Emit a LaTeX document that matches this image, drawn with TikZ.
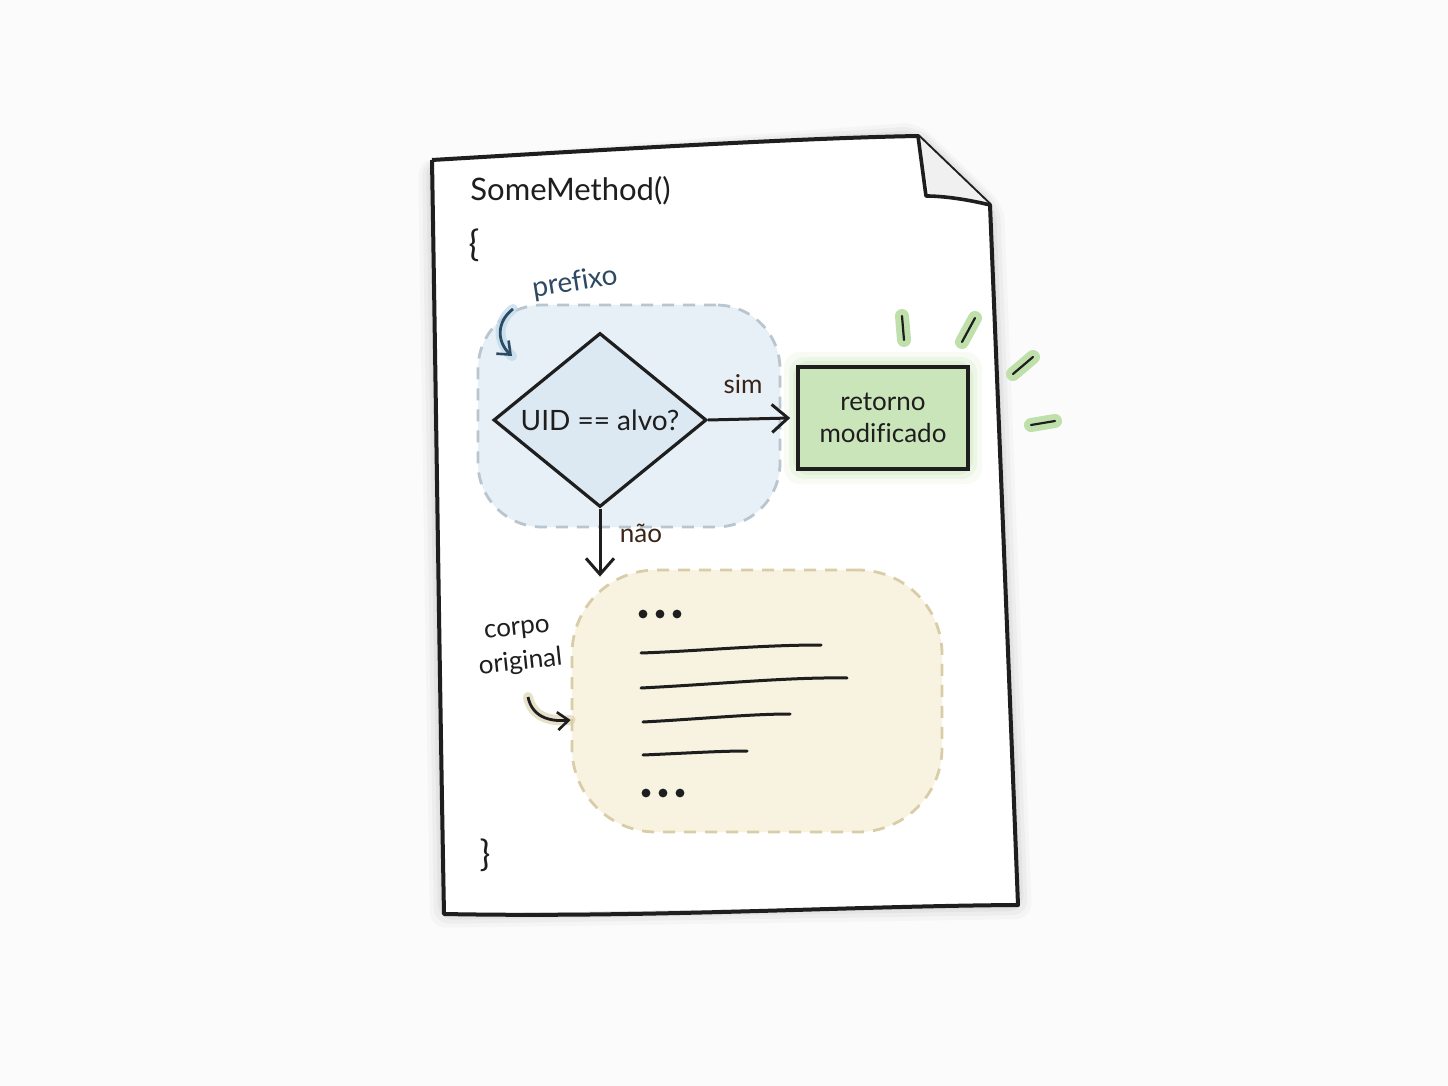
\documentclass[tikz,border=0pt]{standalone}
\usepackage{fontspec}
\setmainfont{Lato}[Ligatures=NoCommon]
\usetikzlibrary{shapes.geometric,arrows.meta,calc}
\definecolor{bg}{HTML}{FBFBFB}
\definecolor{ink}{HTML}{1E1E1E}
\definecolor{bluefill}{HTML}{E7F0F6}
\definecolor{bluedash}{HTML}{B9C6CF}
\definecolor{diafill}{HTML}{DCE9F2}
\definecolor{greenfill}{HTML}{C9E5B9}
\definecolor{greenglow}{HTML}{BFE0AB}
\definecolor{beigefill}{HTML}{F8F2E1}
\definecolor{beigedash}{HTML}{D9CDA8}
\definecolor{brownink}{HTML}{3A2418}
\definecolor{blueink}{HTML}{2E4A63}
\definecolor{blueglow}{HTML}{BCD8EA}
\tikzset{
  x=0.5pt,y=-0.5pt,
  tip/.style={-{Straight Barb[length=8pt,width=14pt,line width=1.5pt]}},
  smalltip/.style={-{Straight Barb[length=5.5pt,width=9pt,line width=1.3pt]}},
  region/.style={draw,dashed,dash pattern=on 6pt off 4.5pt,line width=1.4pt},
  handtext/.style={font=\fontsize{14}{16}\selectfont,text=ink,inner sep=1pt},
  raystyle/.style={line cap=round,line width=1.1pt,ink},
  rayglow/.style={line cap=round,line width=7pt,greenglow}
}
\begin{document}
\begin{tikzpicture}
\useasboundingbox (0,0) rectangle (1448,1086);
\fill[bg] (0,0) rectangle (1448,1086);
% page shadow
\foreach \o/\a in {14/0.025,10/0.03,6/0.035,3/0.04}{
  \fill[black,opacity=\a,rounded corners=8pt]
    (432-\o,160) -- (918,136-\o) -- (990+\o,205) -- (1018+\o,905+\o) -- (444-\o,914+\o) -- cycle;
}
% page
\fill[white] (432,160) -- (918,136) -- (990,205) -- (1018,905) -- (444,914) -- cycle;
\draw[ink,line width=2pt,line join=round]
  (432,160) .. controls (600,150) and (800,138) .. (918,136)
  -- (990,205)
  .. controls (1000,450) and (1010,700) .. (1018,905)
  .. controls (850,906) and (650,918) .. (444,914)
  .. controls (440,700) and (436,400) .. (432,160);
% fold flap
\fill[white!94!black] (918,136) -- (990,205) .. controls (965,200) and (945,198) .. (930,198) -- cycle;
\draw[ink,line width=1.8pt,line join=round]
  (918,136) -- (926,196) .. controls (945,196) and (970,200) .. (990,205);
% header texts
\node[handtext,font=\fontsize{15.5}{18}\selectfont,anchor=west] (method) at (468,191) {SomeMethod()};
\node[handtext,font=\fontsize{18}{20}\selectfont] (open) at (474,245) {\{};
\node[handtext,font=\fontsize{18}{20}\selectfont] (close) at (485,855) {\}};
% prefix region
\node[region,draw=bluedash,fill=bluefill,rounded corners=32pt,minimum width=151pt,minimum height=111pt] (pre) at (629,416) {};
% diamond
\node[diamond,aspect=1.22,draw=ink,line width=1.6pt,fill=diafill,minimum width=106.5pt,minimum height=87pt,inner sep=0pt,handtext,font=\fontsize{14}{16}\selectfont] (dia) at (600,420) {UID == alvo?};
% green glow + box
\foreach \g/\a in {14/0.12,9/0.18,5/0.25}{
  \fill[greenglow,opacity=\a,rounded corners=8pt] (798-\g,366-\g) rectangle (968+\g,470+\g);
}
\node[draw=ink,line width=1.8pt,fill=greenfill,minimum width=85pt,minimum height=51pt,align=center,handtext,font=\fontsize{13}{16}\selectfont] (ret) at (883,418) {retorno\\modificado};
% rays
\foreach \ax/\ay/\bx/\by in {902/316/904/340, 975/318/962/342, 1033/357/1013/374, 1031/425/1055/421}{
  \draw[rayglow] (\ax,\ay) -- (\bx,\by);
  \draw[raystyle] (\ax,\ay) -- (\bx,\by);
}
% yes arrow
\draw[ink,line width=1.5pt,tip] (dia.east) -- ([xshift=-3pt]ret.west);
\node[handtext,font=\fontsize{13}{15}\selectfont,text=brownink] (sim) at (743,384) {sim};
% body region
\node[region,draw=beigedash,fill=beigefill,rounded corners=42pt,minimum width=185pt,minimum height=131pt] (body) at (757,701) {};
% no arrow
\draw[ink,line width=1.5pt,tip] (dia.south) -- ([yshift=-4pt]body.north -| dia.south);
\node[handtext,font=\fontsize{13}{15}\selectfont,text=brownink] (nao) at (641,533) {não};
% body content
\foreach \x in {643,660,677}{ \fill[ink] (\x,614) circle (2.2pt); }
\foreach \x in {646,663,680}{ \fill[ink] (\x,793) circle (2.2pt); }
\draw[ink,line width=1.5pt,line cap=round] (641,653) .. controls (700,651) and (760,645) .. (821,645);
\draw[ink,line width=1.5pt,line cap=round] (641,688) .. controls (720,684) and (790,677) .. (847,678);
\draw[ink,line width=1.5pt,line cap=round] (643,722) .. controls (700,719) and (750,714) .. (790,714);
\draw[ink,line width=1.5pt,line cap=round] (643,755) .. controls (690,753) and (720,751) .. (747,751);
% prefixo label + arrow
\node[handtext,text=blueink,rotate=9,font=\fontsize{14}{16}\selectfont] (preflbl) at (575,283) {prefixo};
\coordinate (pa) at (513,309);
\coordinate (pb) at (512,356);
\draw[blueglow,line width=5pt,line cap=round,opacity=0.7] (pa) .. controls (496,322) and (497,342) .. (pb);
\draw[blueink,line width=1.4pt,smalltip] (pa) .. controls (496,322) and (497,342) .. (pb);
% corpo original label + arrow
\node[handtext,rotate=6,align=center,font=\fontsize{13}{17.5}\selectfont] (corpolbl) at (519,648) {corpo\\original};
\coordinate (ca) at (528,697);
\draw[beigedash,line width=5pt,line cap=round,opacity=0.6] (ca) .. controls (532,716) and (548,722) .. (body.west |- 0,720);
\draw[ink,line width=1.4pt,smalltip] (ca) .. controls (532,716) and (548,722) .. (body.west |- 0,720);
\end{tikzpicture}
\end{document}
